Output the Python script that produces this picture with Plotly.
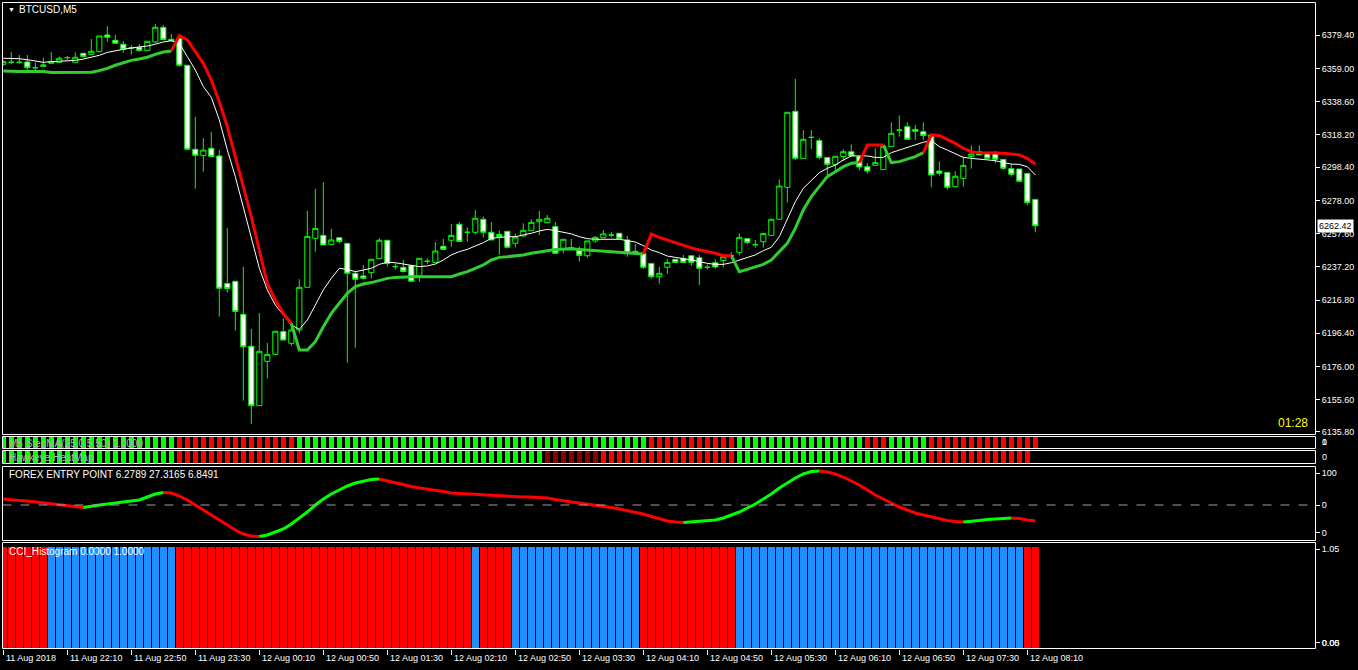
import plotly.graph_objects as go

# ---------------- data ----------------
x_tick_idx = [0, 8, 16, 24, 32, 40, 48, 56, 64, 72, 80, 88, 96, 104, 112, 120, 128]
x_tick_labels = ["11 Aug 2018", "11 Aug 22:10", "11 Aug 22:50", "11 Aug 23:30", "12 Aug 00:10",
                 "12 Aug 00:50", "12 Aug 01:30", "12 Aug 02:10", "12 Aug 02:50", "12 Aug 03:30",
                 "12 Aug 04:10", "12 Aug 04:50", "12 Aug 05:30", "12 Aug 06:10", "12 Aug 06:50",
                 "12 Aug 07:30", "12 Aug 08:10"]
price_ticks = [6379.40, 6359.00, 6338.60, 6318.20, 6298.40, 6278.00, 6257.60,
               6237.20, 6216.80, 6196.40, 6176.00, 6155.60, 6135.80]

opens = [6361.6, 6362.8, 6362.8, 6363.0, 6359.5, 6360.3, 6362.2, 6362.8, 6365.7, 6362.8,
         6368.3, 6367.7, 6369.3, 6379.6, 6376.3, 6373.9, 6371.6, 6372.0, 6370.0, 6375.3,
         6384.3, 6376.9, 6377.5, 6361.0, 6309.4, 6305.5, 6310.0, 6305.3, 6227.0, 6228.3,
         6208.0, 6188.4, 6151.9, 6179.1, 6183.4, 6197.4, 6190.2, 6198.4, 6224.6, 6254.7,
         6256.5, 6251.0, 6255.1, 6251.6, 6233.2, 6231.6, 6233.6, 6242.2, 6253.5, 6237.3,
         6236.9, 6237.9, 6231.6, 6240.6, 6239.9, 6249.8, 6253.5, 6263.3, 6258.4, 6258.4,
         6266.4, 6258.4, 6257.1, 6259.0, 6251.6, 6256.1, 6259.4, 6264.9, 6264.3, 6261.9,
         6247.9, 6249.0, 6247.9, 6244.0, 6253.1, 6255.1, 6256.7, 6257.8, 6253.7, 6246.7,
         6245.5, 6239.3, 6231.1, 6236.9, 6241.8, 6242.4, 6244.0, 6242.8, 6236.9, 6239.7,
         6241.0, 6244.0, 6246.1, 6254.5, 6250.8, 6252.6, 6256.5, 6266.4, 6286.0, 6332.7,
         6303.8, 6316.7, 6314.7, 6304.4, 6300.1, 6304.9, 6307.9, 6304.9, 6298.7, 6299.5,
         6296.9, 6311.0, 6321.2, 6323.3, 6321.6, 6320.2, 6318.2, 6296.0, 6295.2, 6286.4,
         6291.5, 6304.9, 6307.9, 6307.5, 6307.5, 6303.2, 6297.5, 6297.3, 6294.6, 6278.6]
highs = [6364.2, 6369.1, 6367.3, 6367.3, 6362.6, 6365.5, 6369.1, 6366.3, 6366.7, 6368.9,
         6368.9, 6377.1, 6379.0, 6385.1, 6379.6, 6375.9, 6373.4, 6374.1, 6375.7, 6386.3,
         6385.7, 6380.2, 6379.0, 6361.0, 6329.2, 6316.3, 6320.0, 6308.9, 6261.0, 6228.3,
         6237.1, 6199.0, 6208.8, 6190.4, 6197.6, 6205.5, 6201.5, 6229.5, 6271.5, 6285.0,
         6289.1, 6260.4, 6255.1, 6251.6, 6234.2, 6238.3, 6241.8, 6254.7, 6253.5, 6239.3,
         6241.4, 6237.9, 6242.4, 6242.4, 6252.4, 6254.3, 6263.5, 6264.7, 6261.4, 6272.1,
         6268.0, 6264.7, 6259.4, 6259.0, 6257.8, 6263.9, 6266.4, 6271.5, 6269.0, 6264.7,
         6254.1, 6254.3, 6249.6, 6253.1, 6256.1, 6259.8, 6258.6, 6257.8, 6256.1, 6251.2,
         6246.9, 6239.3, 6237.1, 6242.0, 6241.8, 6244.5, 6244.0, 6244.5, 6238.7, 6241.8,
         6244.9, 6246.1, 6257.8, 6254.5, 6253.7, 6257.6, 6266.4, 6290.9, 6332.1, 6352.6,
         6321.2, 6321.2, 6316.1, 6304.4, 6305.1, 6309.4, 6312.4, 6304.9, 6300.8, 6310.0,
         6311.2, 6325.9, 6330.2, 6325.9, 6324.3, 6325.9, 6318.2, 6302.0, 6295.2, 6295.8,
         6304.9, 6311.8, 6311.8, 6307.5, 6308.3, 6303.2, 6300.3, 6297.3, 6294.6, 6278.6]
lows = [6360.7, 6361.6, 6362.0, 6358.1, 6358.1, 6360.1, 6362.2, 6362.8, 6364.2, 6362.8,
        6365.9, 6367.7, 6369.3, 6375.5, 6374.5, 6368.7, 6367.5, 6369.3, 6370.0, 6374.5,
        6376.7, 6375.5, 6360.1, 6308.9, 6285.2, 6295.6, 6304.9, 6206.6, 6221.3, 6198.0,
        6155.0, 6140.6, 6151.9, 6168.5, 6182.8, 6192.2, 6188.8, 6196.3, 6224.6, 6246.5,
        6250.6, 6251.0, 6251.6, 6178.3, 6187.5, 6229.5, 6230.1, 6242.2, 6237.3, 6235.6,
        6234.2, 6228.3, 6228.1, 6238.7, 6239.9, 6247.9, 6249.6, 6252.8, 6252.6, 6257.1,
        6255.3, 6253.7, 6244.5, 6248.5, 6249.0, 6256.1, 6259.4, 6256.7, 6263.9, 6245.5,
        6245.5, 6247.9, 6240.4, 6242.8, 6252.0, 6255.1, 6255.3, 6254.5, 6243.4, 6245.5,
        6235.9, 6229.9, 6226.8, 6232.8, 6239.9, 6239.9, 6237.9, 6226.0, 6235.6, 6236.1,
        6236.9, 6243.4, 6244.2, 6251.0, 6249.0, 6249.0, 6256.5, 6266.4, 6276.6, 6302.8,
        6303.8, 6309.6, 6303.2, 6293.0, 6296.0, 6302.2, 6305.3, 6296.3, 6294.4, 6299.5,
        6296.9, 6311.0, 6317.1, 6315.5, 6315.1, 6315.1, 6286.0, 6293.2, 6284.6, 6286.4,
        6286.4, 6297.5, 6305.9, 6303.8, 6300.8, 6296.7, 6292.6, 6289.7, 6275.0, 6258.4]
closes = [6363.2, 6362.8, 6362.8, 6359.5, 6359.5, 6361.2, 6363.2, 6365.3, 6365.7, 6365.9,
          6366.3, 6369.6, 6379.0, 6378.2, 6374.5, 6370.8, 6371.6, 6370.0, 6375.7, 6384.3,
          6376.7, 6376.1, 6361.0, 6309.4, 6305.7, 6308.9, 6304.9, 6224.0, 6223.8, 6209.8,
          6188.1, 6151.9, 6185.3, 6183.4, 6197.6, 6192.2, 6198.4, 6224.6, 6255.9, 6260.8,
          6250.6, 6253.7, 6252.8, 6233.2, 6229.5, 6230.1, 6241.8, 6253.5, 6239.3, 6237.3,
          6234.2, 6228.3, 6242.4, 6240.6, 6246.9, 6247.9, 6256.5, 6252.8, 6258.4, 6267.0,
          6258.4, 6253.7, 6255.7, 6249.2, 6255.5, 6259.6, 6264.5, 6266.4, 6267.0, 6245.5,
          6254.1, 6249.0, 6244.2, 6253.1, 6255.3, 6257.4, 6256.7, 6254.5, 6245.9, 6245.5,
          6236.9, 6231.1, 6233.2, 6239.9, 6239.9, 6239.9, 6239.9, 6236.3, 6236.9, 6237.1,
          6243.4, 6244.0, 6255.3, 6252.2, 6250.8, 6257.6, 6266.4, 6286.8, 6332.1, 6303.8,
          6315.5, 6316.7, 6304.4, 6300.1, 6305.1, 6307.9, 6305.3, 6298.5, 6296.0, 6301.2,
          6311.2, 6319.2, 6321.2, 6315.5, 6320.4, 6317.8, 6293.6, 6294.6, 6286.0, 6292.8,
          6299.5, 6306.5, 6305.9, 6303.8, 6303.2, 6297.7, 6294.0, 6289.7, 6276.6, 6262.42]

white_ma = [6365.3, 6365.3, 6365.0, 6364.4, 6363.4, 6362.8, 6363.2, 6363.4, 6363.6, 6364.0,
            6364.8, 6365.9, 6367.1, 6368.9, 6370.0, 6370.8, 6371.6, 6372.0, 6372.8, 6373.9,
            6375.3, 6376.1, 6374.5, 6366.3, 6358.1, 6347.9, 6341.3, 6327.4, 6309.0, 6292.6,
            6274.1, 6255.7, 6236.3, 6223.0, 6213.7, 6207.6, 6201.5, 6198.8, 6204.5, 6213.7,
            6223.0, 6230.1, 6236.3, 6235.6, 6234.2, 6235.2, 6236.3, 6238.7, 6240.0, 6239.7,
            6238.9, 6237.9, 6237.3, 6237.7, 6238.9, 6241.4, 6244.5, 6246.5, 6247.9, 6250.0,
            6252.0, 6254.7, 6255.3, 6255.7, 6255.7, 6256.7, 6257.8, 6259.2, 6260.2, 6259.4,
            6258.2, 6257.4, 6255.7, 6254.5, 6254.1, 6254.1, 6254.1, 6254.1, 6253.3, 6252.4,
            6250.2, 6247.5, 6245.9, 6243.8, 6243.0, 6242.4, 6241.4, 6240.4, 6239.3, 6238.7,
            6238.7, 6239.7, 6241.4, 6243.0, 6244.5, 6247.1, 6249.2, 6255.7, 6266.0, 6277.2,
            6285.4, 6290.1, 6295.0, 6297.7, 6299.7, 6302.8, 6305.3, 6305.3, 6305.3, 6304.4,
            6304.4, 6307.3, 6308.9, 6310.6, 6312.2, 6313.7, 6314.7, 6311.0, 6308.9, 6306.5,
            6304.4, 6303.8, 6303.2, 6302.8, 6302.4, 6301.2, 6300.3, 6300.1, 6298.7, 6293.6]

step_ma = [6357.5, 6357.1, 6357.1, 6357.1, 6357.1, 6357.1, 6356.5, 6356.5, 6356.5, 6356.5,
           6356.5, 6356.7, 6357.7, 6359.1, 6361.0, 6362.6, 6364.0, 6364.8, 6365.9, 6367.7,
           6369.1, 6369.8, 6379.2, 6376.5, 6369.3, 6362.2, 6351.9, 6338.6, 6323.3, 6304.9,
           6287.4, 6268.0, 6247.5, 6227.0, 6216.8, 6208.6, 6202.5, 6186.1, 6186.1, 6191.2,
           6200.4, 6208.6, 6214.8, 6220.9, 6225.0, 6226.6, 6227.5, 6228.7, 6230.1, 6230.7,
           6231.1, 6231.1, 6231.1, 6231.1, 6231.1, 6231.1, 6231.1, 6232.8, 6234.2, 6236.3,
           6238.3, 6241.4, 6243.0, 6243.4, 6243.8, 6244.5, 6245.5, 6246.1, 6247.1, 6247.9,
           6248.3, 6248.3, 6247.9, 6247.5, 6247.1, 6247.1, 6246.7, 6246.1, 6245.9, 6245.5,
           6245.1, 6257.3, 6255.3, 6253.7, 6252.0, 6250.2, 6248.8, 6247.5, 6246.5, 6245.5,
           6244.0, 6244.0, 6234.2, 6235.6, 6237.3, 6238.7, 6241.4, 6246.5, 6251.6, 6260.8,
           6272.1, 6280.3, 6286.4, 6292.6, 6295.6, 6298.7, 6300.8, 6301.2, 6312.0, 6312.0,
           6312.0, 6301.2, 6301.8, 6303.2, 6304.9, 6307.3, 6318.2, 6317.8, 6315.5, 6313.0,
           6310.0, 6307.9, 6307.3, 6307.3, 6307.3, 6306.9, 6306.5, 6305.9, 6303.8, 6300.3]
# trend runs (state, count) for the StepMA line and the StepMA strip
step_runs = [("up", 22), ("down", 15), ("up", 44), ("down", 11), ("up", 16),
             ("down", 3), ("up", 5), ("down", 14)]
# heat-map strip colour runs
heat_runs = [("g", 22), ("r", 16), ("g", 30), ("d", 7), ("r", 17), ("g", 24), ("r", 13)]

forex_vals = [18.8, 15.6, 14.1, 12.5, 9.4, 6.3, 3.1, 0.0, -3.1, -6.3,
              -7.8, -3.1, 0.0, 3.1, 6.3, 9.4, 10.9, 15.6, 25.0, 34.4,
              39.1, 37.5, 28.1, 15.6, 0.0, -15.6, -31.3, -46.9, -62.5, -78.1,
              -90.6, -96.9, -98.4, -93.8, -84.4, -75.0, -59.4, -40.6, -21.9, 0.0,
              18.8, 34.4, 46.9, 59.4, 68.8, 75.0, 79.7, 81.3, 75.0, 68.8,
              62.5, 57.8, 53.1, 50.0, 46.9, 42.2, 37.5, 35.9, 34.4, 32.8,
              31.3, 29.7, 28.1, 26.6, 26.6, 25.0, 25.0, 23.4, 21.9, 17.2,
              12.5, 9.4, 6.3, 3.1, 0.0, -3.1, -7.8, -12.5, -17.2, -21.9,
              -28.1, -35.9, -43.8, -50.0, -53.1, -54.7, -53.1, -51.6, -50.0, -46.9,
              -40.6, -31.3, -21.9, -9.4, 3.1, 18.8, 34.4, 53.1, 68.8, 84.4,
              96.9, 104.7, 106.3, 103.1, 96.9, 87.5, 75.0, 62.5, 46.9, 31.3,
              18.8, 6.3, -6.3, -15.6, -25.0, -31.3, -37.5, -43.8, -48.4, -51.6,
              -53.1, -51.6, -48.4, -45.3, -43.8, -42.2, -40.6, -42.2, -46.9, -50.0]
forex_runs = [("r", 11), ("g", 10), ("r", 12), ("g", 15), ("r", 38), ("g", 17),
              ("r", 18), ("g", 6), ("r", 3)]
forex_ticks = [100, 0, -87.5]
forex_ticktext = ["100", "0", "0"]

cci_runs = [("r", 6), ("b", 16), ("r", 37), ("b", 1), ("r", 4), ("b", 16),
            ("r", 12), ("b", 36), ("r", 2)]
cci_ticks = [0.98, 0.06]
cci_ticktext = ["1.05", "0.00"]

current_price = 6262.42

# ---------------- helpers ----------------
def expand(runs):
    out = []
    for s, n in runs:
        out.extend([s] * n)
    return out

n = len(closes)
idx = list(range(n))

PL, PR, PT, PB = 3, 1315, 2, 649
def px(x):
    return (x - PL) / (PR - PL)
def py(y):
    return (PB - y) / (PB - PT)

def split_line(vals, states, key):
    out = []
    for i in range(len(vals)):
        ok = states[i] == key or (i + 1 < len(vals) and states[i + 1] == key)
        out.append(vals[i] if ok else None)
    return out

GREEN = "#00FF00"
LIME = "#32CD32"
RED = "#FF0000"
BLUE = "#1E90FF"
FONT = "Liberation Sans, Arial, sans-serif"

fig = go.Figure()

# main candles
fig.add_trace(go.Candlestick(
    x=idx, open=opens, high=highs, low=lows, close=closes,
    increasing=dict(line=dict(color=GREEN, width=1), fillcolor="#000000"),
    decreasing=dict(line=dict(color=GREEN, width=1), fillcolor="#FFFFFF"),
    whiskerwidth=0, xaxis="x", yaxis="y", showlegend=False, hoverinfo="skip"))

fig.add_trace(go.Scatter(x=idx, y=white_ma, mode="lines", line=dict(color="#FFFFFF", width=1),
                         xaxis="x", yaxis="y", showlegend=False, hoverinfo="skip"))

step_state = expand(step_runs)
fig.add_trace(go.Scatter(x=idx, y=split_line(step_ma, step_state, "up"), mode="lines",
                         line=dict(color=LIME, width=3), connectgaps=False,
                         xaxis="x", yaxis="y", showlegend=False, hoverinfo="skip"))
fig.add_trace(go.Scatter(x=idx, y=split_line(step_ma, step_state, "down"), mode="lines",
                         line=dict(color=RED, width=3), connectgaps=False,
                         xaxis="x", yaxis="y", showlegend=False, hoverinfo="skip"))

# strip 1 (StepMA)
fig.add_trace(go.Bar(x=idx, y=[1] * n, width=0.62,
                     marker=dict(color=[GREEN if s == "up" else RED for s in step_state], line=dict(width=0)),
                     xaxis="x", yaxis="y2", showlegend=False, hoverinfo="skip"))
# strip 2 (HeatMap)
heat_state = expand(heat_runs)
heat_col = {"g": GREEN, "r": RED, "d": "#8B0000"}
fig.add_trace(go.Bar(x=idx[:len(heat_state)], y=[1] * len(heat_state), width=0.62,
                     marker=dict(color=[heat_col[s] for s in heat_state], line=dict(width=0)),
                     xaxis="x", yaxis="y3", showlegend=False, hoverinfo="skip"))

# forex entry point
forex_state = expand(forex_runs)
fig.add_trace(go.Scatter(x=idx, y=split_line(forex_vals, forex_state, "r"), mode="lines",
                         line=dict(color=RED, width=3), xaxis="x", yaxis="y4",
                         showlegend=False, hoverinfo="skip"))
fig.add_trace(go.Scatter(x=idx, y=split_line(forex_vals, forex_state, "g"), mode="lines",
                         line=dict(color=GREEN, width=3), xaxis="x", yaxis="y4",
                         showlegend=False, hoverinfo="skip"))

# CCI histogram
cci_state = expand(cci_runs)
fig.add_trace(go.Bar(x=idx, y=[1] * n, width=0.86,
                     marker=dict(color=[RED if s == "r" else BLUE for s in cci_state], line=dict(width=0)),
                     xaxis="x", yaxis="y5", showlegend=False, hoverinfo="skip"))

dom_main = [py(434), 1]
dom_s1 = [py(448), py(437)]
dom_s2 = [py(463), py(450)]
dom_fx = [py(540), py(466)]
dom_cci = [0, py(542)]

tickfont = dict(family=FONT, size=9, color="#FFFFFF")
yax_common = dict(anchor="x", side="right", showgrid=False, zeroline=False, showline=False,
                  ticks="outside", ticklen=4, tickcolor="#FFFFFF", tickfont=tickfont, fixedrange=True)
yax_strip = dict(anchor="x", side="right", showgrid=False, zeroline=False, showline=False,
                 ticks="", showticklabels=False, fixedrange=True)

fig.update_layout(
    width=1358, height=670,
    margin=dict(l=PL, r=1358 - PR, t=PT, b=670 - PB, autoexpand=False),
    paper_bgcolor="#000000", plot_bgcolor="#000000",
    bargap=0, showlegend=False,
    boxgap=0.2, boxgroupgap=0.2,
    xaxis=dict(range=[-0.04, 163.96], anchor="y5", showgrid=False, zeroline=False, showline=False,
               tickmode="array", tickvals=x_tick_idx, showticklabels=False,
               ticks="outside", ticklen=5, tickcolor="#FFFFFF",
               rangeslider=dict(visible=False), fixedrange=True),
    yaxis=dict(domain=dom_main, range=[6134.5, 6399.85], tickmode="array",
               tickvals=price_ticks, ticktext=["%.2f" % v for v in price_ticks], **yax_common),
    yaxis2=dict(domain=dom_s1, range=[0, 1], **yax_strip),
    yaxis3=dict(domain=dom_s2, range=[0, 1], **yax_strip),
    yaxis4=dict(domain=dom_fx, range=[-109.4, 121.9], tickmode="array",
                tickvals=forex_ticks, ticktext=forex_ticktext, **yax_common),
    yaxis5=dict(domain=dom_cci, range=[0, 1.05], tickmode="array",
                tickvals=cci_ticks, ticktext=cci_ticktext, **yax_common),
)

# panel frames drawn as single 1px lines on half-pixel positions
frames_px = [(2.5, 434.5), (436.5, 448.5), (450.5, 463.5), (466.5, 540.5), (542.5, 648.5)]
XL, XR = px(2.5), px(1315.5)
shapes = []
def hline(ypix):
    return dict(type="line", xref="paper", yref="paper", x0=XL, x1=XR, y0=py(ypix), y1=py(ypix),
                line=dict(color="#FFFFFF", width=1), layer="above")
def vline(xpix, top, bot):
    return dict(type="line", xref="paper", yref="paper", x0=px(xpix), x1=px(xpix), y0=py(bot), y1=py(top),
                line=dict(color="#FFFFFF", width=1), layer="above")
for top, bot in frames_px:
    shapes.append(hline(top))
    shapes.append(hline(bot))
    shapes.append(vline(2.5, top, bot))
    shapes.append(vline(1315.5, top, bot))
shapes.append(dict(type="line", xref="paper", yref="y4", x0=XL, x1=XR, y0=0, y1=0,
                   line=dict(color="#A0A0A0", width=1, dash="dash")))
fig.update_layout(shapes=shapes)

ann = []
for t, lab in zip(x_tick_idx, x_tick_labels):
    ann.append(dict(x=t, xref="x", y=py(658), yref="paper", text=lab, showarrow=False,
                    xanchor="left", yanchor="middle", xshift=1, font=tickfont))
ann.append(dict(x=px(6), y=py(10), xref="paper", yref="paper", text="▼", showarrow=False,
                xanchor="left", yanchor="middle", font=dict(family=FONT, size=7, color="#FFFFFF")))
ann.append(dict(x=px(17), y=py(10), xref="paper", yref="paper", text="BTCUSD,M5", showarrow=False,
                xanchor="left", yanchor="middle", font=dict(family=FONT, size=10, color="#FFFFFF")))
ann.append(dict(x=px(1310), y=py(423), xref="paper", yref="paper", text="01:28", showarrow=False,
                xanchor="right", yanchor="middle", font=dict(family=FONT, size=12, color="#FFFF00")))
ann.append(dict(x=px(1317), y=current_price, xref="paper", yref="y", text="%.2f" % current_price,
                showarrow=False, xanchor="left", yanchor="middle", bgcolor="#FFFFFF", borderpad=1,
                font=dict(family=FONT, size=9, color="#000000")))
ann.append(dict(x=px(7), y=py(443), xref="paper", yref="paper", text="M5 StepMA(25,0.5,50) 1.0000",
                showarrow=False, xanchor="left", yanchor="middle",
                font=dict(family=FONT, size=10, color="#B4B4B4")))
ann.append(dict(x=px(7), y=py(457), xref="paper", yref="paper", text="Hawkeye HeatMap",
                showarrow=False, xanchor="left", yanchor="middle",
                font=dict(family=FONT, size=10, color="#B4B4B4")))
ann.append(dict(x=px(7), y=py(475), xref="paper", yref="paper",
                text="FOREX ENTRY POINT 6.2789 27.3165 6.8491",
                showarrow=False, xanchor="left", yanchor="middle",
                font=dict(family=FONT, size=10, color="#FFFFFF")))
ann.append(dict(x=px(7), y=py(551), xref="paper", yref="paper", text="CCI_Histogram 0.0000 1.0000",
                showarrow=False, xanchor="left", yanchor="middle",
                font=dict(family=FONT, size=10, color="#FFFFFF")))
for yy, tx in ((442, "1"), (442, "0"), (457, "0")):
    ann.append(dict(x=px(1320), y=py(yy), xref="paper", yref="paper", text=tx, showarrow=False,
                    xanchor="left", yanchor="middle", font=tickfont))
ann.append(dict(x=px(1320), y=py(643), xref="paper", yref="paper", text="0.05", showarrow=False,
                xanchor="left", yanchor="middle", font=tickfont))
fig.update_layout(annotations=ann)

fig.write_html("out.html", config={"displayModeBar": False},
               post_script="document.body.style.margin='0';document.body.style.overflow='hidden';")
